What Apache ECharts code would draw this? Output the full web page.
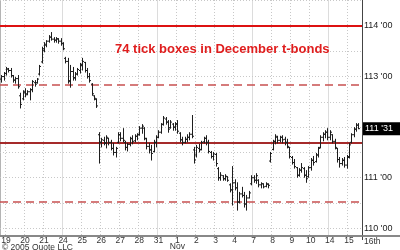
<!DOCTYPE html>
<html><head><meta charset="utf-8">
<script src="https://cdn.jsdelivr.net/npm/echarts@6/dist/echarts.min.js"></script>
<style>html,body{margin:0;padding:0;background:#fff}#c{width:400px;height:250px}</style>
</head><body><div id="c"></div>
<script>
// ---- data ----
var dayLabels = ['18','19','20','21','24','25','26','27','28','31','1','2','3','4','7','8','9','10','14','15'];
var barsPerDay = [2,8,8,8,8,8,8,8,8,8,8,8,8,8,8,8,8,8,8,6];
var weekStartDays = ['24','31','7','14'];
var monthStartDays = ['1'];
var nextDayLabel = '16th';

var highs = [113.03,113.09,113.19,113.17,113.17,113.03,112.99,113.03,112.68,112.73,112.77,112.73,112.77,112.93,112.93,112.97,113.23,113.59,113.68,113.72,113.82,113.88,113.78,113.78,113.76,113.76,113.68,113.39,113.37,113.23,113.19,113.09,113.17,113.27,113.37,113.29,113.17,113.07,112.87,112.63,112.57,
111.90,111.79,111.81,111.84,111.79,111.75,111.69,111.61,111.90,111.90,111.98,111.73,111.69,111.81,111.84,111.86,111.88,112.02,112.06,112.00,111.79,111.69,111.65,111.75,111.84,111.94,112.08,112.22,112.20,112.14,112.14,112.08,112.10,112.14,111.90,111.81,111.81,111.86,111.90,112.24,
111.61,111.65,111.67,111.73,111.81,111.84,111.75,111.53,111.51,111.49,111.21,111.11,111.05,111.07,111.03,110.89,111.23,110.97,110.91,110.72,110.82,110.72,110.66,110.74,111.05,111.05,111.09,110.97,110.91,110.89,110.91,110.89,
111.51,111.75,111.86,111.83,111.83,111.84,111.81,111.77,111.61,111.43,111.37,111.21,111.19,111.29,111.21,111.15,111.23,111.39,111.43,111.49,111.61,111.84,111.90,111.94,111.98,111.94,111.86,111.77,111.59,111.41,111.39,111.41,111.45,111.69,111.88,112.00,112.08,112.08];
var lows = [112.89,112.93,113.03,113.09,112.99,112.89,112.87,112.77,112.38,112.54,112.60,112.64,112.54,112.70,112.81,112.87,113.03,113.27,113.49,113.59,113.68,113.72,113.68,113.68,113.66,113.62,113.53,113.27,112.87,112.79,112.93,112.93,113.03,113.07,113.13,113.09,112.97,112.89,112.63,112.54,112.39,
111.29,111.61,111.65,111.59,111.65,111.55,111.45,111.41,111.69,111.73,111.71,111.55,111.53,111.63,111.67,111.71,111.75,111.84,111.88,111.75,111.57,111.49,111.35,111.51,111.61,111.79,111.88,112.04,112.06,111.90,111.98,111.94,111.94,111.88,111.71,111.65,111.69,111.71,111.75,111.79,
111.29,111.41,111.51,111.55,111.69,111.65,111.49,111.39,111.35,111.23,110.95,110.95,110.95,110.95,110.93,110.72,110.46,110.76,110.36,110.50,110.62,110.42,110.36,110.60,110.86,110.91,110.89,110.82,110.80,110.80,110.82,110.80,
111.31,111.55,111.67,111.69,111.71,111.69,111.65,111.59,111.39,111.27,111.19,111.01,111.03,111.11,111.01,110.91,111.01,111.15,111.25,111.31,111.41,111.59,111.73,111.79,111.75,111.75,111.69,111.57,111.31,111.21,111.25,111.21,111.19,111.39,111.69,111.81,111.92,111.97];
var opens = [112.95,113.00,113.06,113.15,113.12,113.02,112.93,112.96,112.62,112.56,112.68,112.66,112.70,112.74,112.88,112.88,113.05,113.29,113.52,113.62,113.70,113.78,113.74,113.72,113.74,113.70,113.65,113.36,113.30,112.90,113.10,112.97,113.05,113.12,113.22,113.28,113.12,113.00,112.85,112.62,112.55,
111.85,111.70,111.74,111.68,111.78,111.70,111.58,111.50,111.70,111.85,111.78,111.70,111.60,111.66,111.77,111.73,111.82,111.86,111.98,111.98,111.77,111.62,111.55,111.52,111.70,111.80,111.90,112.06,112.16,112.10,111.99,112.06,112.00,112.05,111.88,111.75,111.70,111.76,111.80,111.86,
111.55,111.45,111.58,111.56,111.71,111.78,111.70,111.50,111.42,111.46,111.18,111.00,111.04,110.98,111.02,110.86,110.76,110.90,110.80,110.52,110.68,110.65,110.48,110.60,110.88,111.00,110.95,110.95,110.86,110.88,110.83,110.87,
111.33,111.56,111.72,111.80,111.74,111.80,111.76,111.70,111.60,111.40,111.30,111.20,111.05,111.15,111.18,111.05,111.02,111.20,111.34,111.32,111.45,111.60,111.80,111.86,111.90,111.80,111.85,111.72,111.58,111.36,111.28,111.34,111.25,111.42,111.70,111.85,111.96,112.04];
var closes = [113.00,113.06,113.15,113.12,113.02,112.93,112.96,112.80,112.45,112.70,112.64,112.70,112.74,112.90,112.85,112.95,113.20,113.55,113.64,113.70,113.78,113.74,113.72,113.75,113.70,113.66,113.55,113.30,112.92,113.10,112.98,113.05,113.14,113.24,113.30,113.12,113.00,112.92,112.66,112.57,112.42,
111.70,111.75,111.69,111.80,111.70,111.58,111.50,111.58,111.85,111.78,111.74,111.60,111.66,111.78,111.72,111.82,111.85,111.98,112.02,111.78,111.62,111.55,111.48,111.70,111.80,111.90,112.05,112.18,112.10,111.96,112.10,112.00,112.07,111.92,111.75,111.70,111.76,111.80,111.86,111.82,
111.35,111.60,111.55,111.70,111.78,111.70,111.52,111.42,111.47,111.28,111.00,111.05,110.98,111.03,110.95,110.76,110.90,110.80,110.52,110.68,110.65,110.48,110.60,110.70,111.00,110.95,111.04,110.86,110.88,110.82,110.88,110.85,
111.48,111.72,111.82,111.74,111.80,111.75,111.70,111.62,111.42,111.30,111.22,111.05,111.15,111.20,111.05,110.98,111.20,111.35,111.30,111.45,111.58,111.80,111.86,111.90,111.80,111.90,111.72,111.60,111.36,111.28,111.35,111.25,111.40,111.65,111.85,111.96,112.04,111.97];

var gridLevels = [110,110.5,111,111.5,112,112.5,113,113.5,114,114.5];
var solidBoxLevels = [114, 111.6875];
var dashedBoxLevels = [112.84375, 110.53125];
var titleText = '74 tick boxes in December t-bonds';
var copyrightText = '\u00a9 2005 Quote LLC';
var yMin = 109.848, yMax = 114.514;

// ---- build ----
var categories = [];
dayLabels.forEach(function (d, k) {
  for (var j = 0; j < barsPerDay[k]; j++) categories.push(d + '|' + j);
});
var ohlc = highs.map(function (h, i) { return [i, opens[i], h, lows[i], closes[i]]; });
var lastClose = closes[closes.length - 1];

function fmt32(v) {
  var w = Math.floor(v + 1e-9);
  var t = Math.round((v - w) * 32);
  if (t === 32) { w += 1; t = 0; }
  return w + " '" + (t < 10 ? '0' + t : t);
}
function isDayStart(idx, val) {
  var p = String(val).split('|');
  return p[1] === '0' && p[0] !== dayLabels[0];
}
var FONT = '"Liberation Sans", Arial, sans-serif';
var hiddenAx = { show: true, axisLine: {show:false}, axisTick:{show:false}, axisLabel:{show:false} };

var chart = echarts.init(document.getElementById('c'), null, {renderer: 'canvas'});
chart.setOption({
  animation: false,
  backgroundColor: '#fff',
  title: { text: titleText, left: 115, top: 43, padding: 0,
    textStyle: { color: '#e01e1e', fontWeight: 'bold', fontSize: 13, fontFamily: FONT } },
  grid: { left: 0, right: 38, top: 0, bottom: 14, containLabel: false, outerBoundsMode: 'none' },
  xAxis: [
    { type: 'category', data: categories, boundaryGap: true,
      axisLine: { show: true, lineStyle: { color: '#888', width: 2 } },
      axisTick: { show: false },
      axisLabel: { interval: isDayStart, margin: 1, fontSize: 8.5, color: '#333', fontFamily: FONT, lineHeight: 6.5,
        formatter: function (v) { var d = v.split('|')[0]; return d === '1' ? '1\nNov' : d; } },
      splitLine: { show: true, interval: isDayStart, lineStyle: { color: '#c8c8c8', type: [1, 2], width: 1 } } },
    Object.assign({ type: 'category', data: categories, boundaryGap: true, position: 'bottom',
      splitLine: { show: true, interval: function (i, v) { var p = String(v).split('|'); return p[1] === '0' && weekStartDays.indexOf(p[0]) >= 0; },
        lineStyle: { color: '#dcdcdc', width: 1 } } }, hiddenAx),
    Object.assign({ type: 'category', data: categories, boundaryGap: true, position: 'bottom',
      splitLine: { show: true, interval: function (i, v) { var p = String(v).split('|'); return p[1] === '0' && monthStartDays.indexOf(p[0]) >= 0; },
        lineStyle: { color: '#b4b4b4', width: 1 } } }, hiddenAx)
  ],
  yAxis: { type: 'value', position: 'right', min: yMin, max: yMax, minInterval: 1, maxInterval: 1, splitNumber: 5,
    axisLine: { show: true, lineStyle: { color: '#444', width: 1 } },
    axisTick: { show: false },
    splitLine: { show: false },
    axisLabel: { margin: 2, fontSize: 9, color: '#222', fontFamily: FONT,
      formatter: function (v) {
        if (Math.abs(v - Math.round(v)) > 1e-6) return '';
        if (Math.abs(v - lastClose) < 0.2) return '';
        return fmt32(v);
      } } },
  series: [
    { type: 'line', data: [], z: 1, silent: true,
      markLine: { silent: true, symbol: 'none', animation: false, label: { show: false },
        lineStyle: { color: '#c8c8c8', type: [1, 2], width: 1 },
        data: gridLevels.map(function (v) { return { yAxis: v }; }) } },
    { type: 'line', data: [], z: 2, silent: true,
      markLine: { silent: true, symbol: 'none', animation: false, label: { show: false },
        data: solidBoxLevels.map(function (v, k) { return { yAxis: v, lineStyle: { color: k === 0 ? '#dd1111' : '#a52a2a', width: 2, type: 'solid' } }; })
          .concat(dashedBoxLevels.map(function (v) { return { yAxis: v, lineStyle: { color: '#c85050', width: 1.5, type: [8, 5] } }; })) } },
    { type: 'custom', z: 5, data: ohlc, encode: { x: 0, y: [1, 2, 3, 4] },
      renderItem: function (params, api) {
        var i = api.value(0);
        var o = api.coord([i, api.value(1)]);
        var h = api.coord([i, api.value(2)]);
        var l = api.coord([i, api.value(3)]);
        var c = api.coord([i, api.value(4)]);
        var x = Math.round(o[0]) + 0.5;
        var st = { stroke: '#1e1e1e', lineWidth: 1 };
        return { type: 'group', children: [
          { type: 'line', shape: { x1: x, y1: h[1], x2: x, y2: l[1] + 0.5 }, style: st },
          { type: 'line', shape: { x1: x - 1.5, y1: o[1], x2: x, y2: o[1] }, style: st },
          { type: 'line', shape: { x1: x, y1: c[1], x2: x + 1.5, y2: c[1] }, style: st }
        ]};
      } },
    { type: 'line', data: [], z: 10, silent: true,
      markLine: { silent: true, symbol: 'none', animation: false,
        data: [{ yAxis: lastClose }],
        lineStyle: { color: 'rgba(0,0,0,0)', width: 1 },
        label: { show: true, position: 'end', distance: 1, formatter: function (p) { return fmt32(p.value); },
          backgroundColor: '#000', color: '#fff', fontSize: 9, fontFamily: FONT, padding: [2, 8, 2, 2] } } }
  ],
  graphic: [
    { type: 'line', shape: { x1: 362, y1: 236, x2: 400, y2: 236 }, style: { stroke: '#888', lineWidth: 2 } },
    { type: 'line', shape: { x1: 362.5, y1: 236, x2: 362.5, y2: 240 }, style: { stroke: '#444', lineWidth: 1 } },
    { type: 'text', left: 364, top: 237.5, style: { text: nextDayLabel, fontSize: 8.5, fill: '#333', fontFamily: FONT } },
    { type: 'text', left: 2, top: 243.5, style: { text: copyrightText, fontSize: 8.5, fill: '#333', fontFamily: FONT } }
  ]
});
</script></body></html>
